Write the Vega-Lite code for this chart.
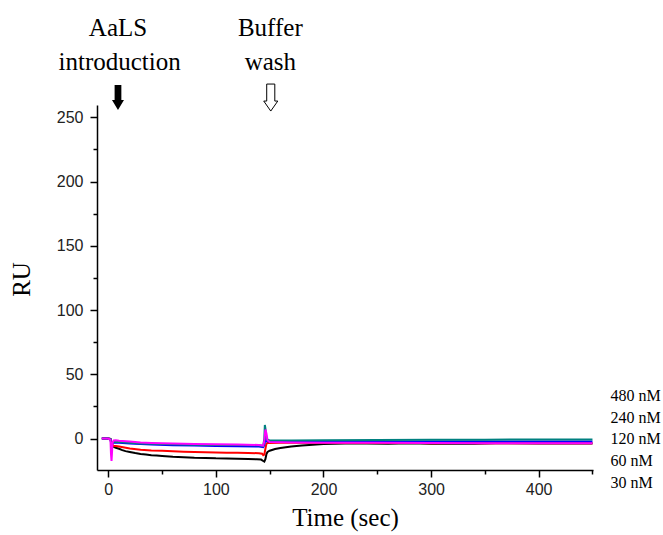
{
  "$schema": "https://vega.github.io/schema/vega-lite/v6.json",
  "autosize": {"type": "none"},
  "padding": {"left": 97, "top": 105, "right": 70, "bottom": 65},
  "width": 496,
  "height": 365,
  "background": "white",
  "config": {
    "view": {"stroke": null},
    "axis": {
      "domainColor": "black", "domainWidth": 1.5, "tickColor": "black", "tickWidth": 1.5,
      "labelFont": "Liberation Sans", "labelFontSize": 16, "labelColor": "#222",
      "titleFont": "Liberation Serif", "titleFontSize": 25, "titleFontWeight": "normal", "titleColor": "black",
      "grid": false, "labelOverlap": false, "labelFlush": false
    }
  },
  "datasets": {
    "curves": [
      {"c":"30 nM","t":-6,"v":0},{"c":"30 nM","t":-3,"v":0.2},{"c":"30 nM","t":0,"v":0},{"c":"30 nM","t":2,"v":-0.3},{"c":"30 nM","t":3,"v":-4},{"c":"30 nM","t":4,"v":-6},{"c":"30 nM","t":5,"v":-6.5},{"c":"30 nM","t":7,"v":-7.2},{"c":"30 nM","t":10,"v":-8},{"c":"30 nM","t":13,"v":-9},{"c":"30 nM","t":16,"v":-9.8},{"c":"30 nM","t":20,"v":-10.5},{"c":"30 nM","t":25,"v":-11.3},{"c":"30 nM","t":30,"v":-12},{"c":"30 nM","t":35,"v":-12.5},{"c":"30 nM","t":40,"v":-13},{"c":"30 nM","t":45,"v":-13.3},{"c":"30 nM","t":50,"v":-13.6},{"c":"30 nM","t":60,"v":-14.2},{"c":"30 nM","t":70,"v":-14.6},{"c":"30 nM","t":80,"v":-15},{"c":"30 nM","t":90,"v":-15.1},{"c":"30 nM","t":100,"v":-15.4},{"c":"30 nM","t":110,"v":-15.5},{"c":"30 nM","t":120,"v":-15.8},{"c":"30 nM","t":130,"v":-16},{"c":"30 nM","t":138,"v":-16.1},{"c":"30 nM","t":142,"v":-16.4},{"c":"30 nM","t":144,"v":-17.5},{"c":"30 nM","t":145,"v":-18},{"c":"30 nM","t":146,"v":-16},{"c":"30 nM","t":147,"v":-12},{"c":"30 nM","t":148,"v":-10.5},{"c":"30 nM","t":150,"v":-9.5},{"c":"30 nM","t":155,"v":-8.2},{"c":"30 nM","t":160,"v":-7.3},{"c":"30 nM","t":170,"v":-6.2},{"c":"30 nM","t":180,"v":-5.4},{"c":"30 nM","t":190,"v":-4.8},{"c":"30 nM","t":200,"v":-4.3},{"c":"30 nM","t":210,"v":-4},{"c":"30 nM","t":220,"v":-3.9},{"c":"30 nM","t":240,"v":-3.8},{"c":"30 nM","t":260,"v":-4},{"c":"30 nM","t":280,"v":-3.7},{"c":"30 nM","t":300,"v":-4.1},{"c":"30 nM","t":320,"v":-3.8},{"c":"30 nM","t":340,"v":-4},{"c":"30 nM","t":360,"v":-3.7},{"c":"30 nM","t":400,"v":-3.8},{"c":"30 nM","t":450,"v":-3.8},
      {"c":"60 nM","t":-6,"v":0},{"c":"60 nM","t":0,"v":0},{"c":"60 nM","t":2,"v":-0.5},{"c":"60 nM","t":3,"v":-3},{"c":"60 nM","t":4,"v":-5},{"c":"60 nM","t":5,"v":-5.6},{"c":"60 nM","t":7,"v":-5.8},{"c":"60 nM","t":10,"v":-6.2},{"c":"60 nM","t":15,"v":-7},{"c":"60 nM","t":20,"v":-7.8},{"c":"60 nM","t":30,"v":-8.8},{"c":"60 nM","t":40,"v":-9.3},{"c":"60 nM","t":50,"v":-9.6},{"c":"60 nM","t":60,"v":-10},{"c":"60 nM","t":70,"v":-10.3},{"c":"60 nM","t":80,"v":-10.5},{"c":"60 nM","t":90,"v":-10.6},{"c":"60 nM","t":100,"v":-10.8},{"c":"60 nM","t":110,"v":-11},{"c":"60 nM","t":120,"v":-11.1},{"c":"60 nM","t":130,"v":-11.3},{"c":"60 nM","t":140,"v":-11.4},{"c":"60 nM","t":143,"v":-11.8},{"c":"60 nM","t":144,"v":-13},{"c":"60 nM","t":145,"v":-12.5},{"c":"60 nM","t":146,"v":-8},{"c":"60 nM","t":147,"v":-4},{"c":"60 nM","t":148,"v":-3.5},{"c":"60 nM","t":150,"v":-3.4},{"c":"60 nM","t":160,"v":-3.2},{"c":"60 nM","t":180,"v":-3.3},{"c":"60 nM","t":200,"v":-3.2},{"c":"60 nM","t":220,"v":-3.4},{"c":"60 nM","t":250,"v":-3.5},{"c":"60 nM","t":280,"v":-3.3},{"c":"60 nM","t":300,"v":-3.6},{"c":"60 nM","t":330,"v":-3.4},{"c":"60 nM","t":350,"v":-3.6},{"c":"60 nM","t":400,"v":-3.6},{"c":"60 nM","t":450,"v":-3.6},
      {"c":"120 nM","t":-6,"v":0},{"c":"120 nM","t":0,"v":0},{"c":"120 nM","t":2,"v":-0.5},{"c":"120 nM","t":3,"v":-5},{"c":"120 nM","t":4,"v":-3.5},{"c":"120 nM","t":5,"v":-3},{"c":"120 nM","t":10,"v":-3.3},{"c":"120 nM","t":20,"v":-3.8},{"c":"120 nM","t":30,"v":-4.3},{"c":"120 nM","t":40,"v":-4.7},{"c":"120 nM","t":60,"v":-5.2},{"c":"120 nM","t":80,"v":-5.5},{"c":"120 nM","t":100,"v":-5.8},{"c":"120 nM","t":120,"v":-6},{"c":"120 nM","t":140,"v":-6.3},{"c":"120 nM","t":144,"v":-6.8},{"c":"120 nM","t":145,"v":-5},{"c":"120 nM","t":146,"v":0},{"c":"120 nM","t":147,"v":-2},{"c":"120 nM","t":150,"v":-2.5},{"c":"120 nM","t":170,"v":-2.6},{"c":"120 nM","t":200,"v":-2.5},{"c":"120 nM","t":250,"v":-2.6},{"c":"120 nM","t":300,"v":-2.4},{"c":"120 nM","t":350,"v":-2.3},{"c":"120 nM","t":400,"v":-2.4},{"c":"120 nM","t":450,"v":-2.3},
      {"c":"480 nM","t":-6,"v":0},{"c":"480 nM","t":0,"v":0},{"c":"480 nM","t":2,"v":-0.5},{"c":"480 nM","t":3,"v":-6},{"c":"480 nM","t":4,"v":-3},{"c":"480 nM","t":5,"v":-2.5},{"c":"480 nM","t":10,"v":-2.8},{"c":"480 nM","t":20,"v":-3.3},{"c":"480 nM","t":30,"v":-3.8},{"c":"480 nM","t":40,"v":-4.1},{"c":"480 nM","t":60,"v":-4.5},{"c":"480 nM","t":80,"v":-4.8},{"c":"480 nM","t":100,"v":-5},{"c":"480 nM","t":120,"v":-5.1},{"c":"480 nM","t":140,"v":-5.2},{"c":"480 nM","t":144,"v":-5.8},{"c":"480 nM","t":145,"v":0},{"c":"480 nM","t":145.5,"v":10.5},{"c":"480 nM","t":146,"v":8},{"c":"480 nM","t":147,"v":-0.5},{"c":"480 nM","t":150,"v":-1.5},{"c":"480 nM","t":170,"v":-1.6},{"c":"480 nM","t":200,"v":-1.3},{"c":"480 nM","t":250,"v":-1.2},{"c":"480 nM","t":300,"v":-1},{"c":"480 nM","t":350,"v":-0.9},{"c":"480 nM","t":400,"v":-0.8},{"c":"480 nM","t":450,"v":-0.8},
      {"c":"240 nM","t":-6,"v":0},{"c":"240 nM","t":0,"v":0},{"c":"240 nM","t":2,"v":-1},{"c":"240 nM","t":2.5,"v":-12},{"c":"240 nM","t":3,"v":-17.5},{"c":"240 nM","t":3.5,"v":-10},{"c":"240 nM","t":4,"v":-3},{"c":"240 nM","t":5,"v":-1.5},{"c":"240 nM","t":7,"v":-1.4},{"c":"240 nM","t":10,"v":-1.8},{"c":"240 nM","t":20,"v":-2.4},{"c":"240 nM","t":30,"v":-3},{"c":"240 nM","t":40,"v":-3.4},{"c":"240 nM","t":60,"v":-3.9},{"c":"240 nM","t":80,"v":-4.2},{"c":"240 nM","t":100,"v":-4.5},{"c":"240 nM","t":120,"v":-4.7},{"c":"240 nM","t":140,"v":-5},{"c":"240 nM","t":144,"v":-5.5},{"c":"240 nM","t":145,"v":-2},{"c":"240 nM","t":146,"v":7},{"c":"240 nM","t":147,"v":4},{"c":"240 nM","t":148,"v":-1.5},{"c":"240 nM","t":150,"v":-2.8},{"c":"240 nM","t":170,"v":-3},{"c":"240 nM","t":200,"v":-3.2},{"c":"240 nM","t":250,"v":-3.3},{"c":"240 nM","t":300,"v":-3.5},{"c":"240 nM","t":350,"v":-3.6},{"c":"240 nM","t":400,"v":-3.6},{"c":"240 nM","t":450,"v":-3.7}
    ],
    "notes": [
      {"t": 9, "v": 319.5, "label": "AaLS"},
      {"t": 10.5, "v": 293, "label": "introduction"},
      {"t": 150.6, "v": 319.5, "label": "Buffer"},
      {"t": 150.6, "v": 293, "label": "wash"}
    ],
    "concs": [
      {"t": 466.7, "v": 33.1, "label": "480 nM"},
      {"t": 466.7, "v": 16, "label": "240 nM"},
      {"t": 466.7, "v": -0.4, "label": "120 nM"},
      {"t": 466.7, "v": -17.5, "label": "60 nM"},
      {"t": 466.7, "v": -34.6, "label": "30 nM"}
    ],
    "injection": [{"t": 9, "v": 265.4}],
    "wash": [{"t": 151, "v": 265.4}]
  },
  "encoding": {
    "x": {
      "field": "t", "type": "quantitative", "title": "Time (sec)",
      "scale": {"domain": [-10.5, 450.5], "nice": false, "zero": false},
      "axis": {
        "values": [0, 50, 100, 150, 200, 250, 300, 350, 400, 450],
        "labelExpr": "datum.value % 100 === 0 ? datum.label : ''",
        "tickSize": {"condition": {"test": "datum.value % 100 === 0", "value": 7}, "value": 4},
        "labelPadding": 4, "titlePadding": 8
      }
    },
    "y": {
      "field": "v", "type": "quantitative", "title": "RU",
      "scale": {"domain": [-24.5, 259.6], "nice": false, "zero": false},
      "axis": {
        "values": [0, 25, 50, 75, 100, 125, 150, 175, 200, 225, 250],
        "labelExpr": "datum.value % 50 === 0 ? datum.label : ''",
        "tickSize": {"condition": {"test": "datum.value % 50 === 0", "value": 7}, "value": 4},
        "labelPadding": 7, "titlePadding": 22, "titleY": 174
      }
    }
  },
  "layer": [
    {
      "data": {"name": "curves"},
      "mark": {"type": "line", "strokeWidth": 2, "clip": false},
      "encoding": {
        "color": {
          "field": "c", "type": "nominal", "legend": null,
          "scale": {
            "domain": ["30 nM", "60 nM", "120 nM", "480 nM", "240 nM"],
            "range": ["#000000", "#ff0000", "#0000ff", "#008080", "#ff00ff"]
          }
        },
        "order": {"field": "t", "type": "quantitative"}
      }
    },
    {
      "data": {"name": "notes"},
      "mark": {"type": "text", "font": "Liberation Serif", "fontSize": 25, "color": "black", "baseline": "middle", "align": "center"},
      "encoding": {"text": {"field": "label"}}
    },
    {
      "data": {"name": "concs"},
      "mark": {"type": "text", "font": "Liberation Serif", "fontSize": 16, "color": "black", "baseline": "middle", "align": "left"},
      "encoding": {"text": {"field": "label"}}
    },
    {
      "data": {"name": "injection"},
      "mark": {"type": "point", "filled": true, "color": "black", "opacity": 1, "size": 625,
               "shape": "M-0.27,-1L0.27,-1L0.27,0.2L0.48,0.2L0,1L-0.48,0.2L-0.27,0.2Z"}
    },
    {
      "data": {"name": "wash"},
      "mark": {"type": "point", "filled": false, "fill": "white", "stroke": "black", "strokeWidth": 1, "opacity": 1, "size": 729,
               "shape": "M-0.3,-1L0.3,-1L0.3,0.26L0.52,0.26L0,1L-0.52,0.26L-0.3,0.26Z"}
    }
  ]
}
